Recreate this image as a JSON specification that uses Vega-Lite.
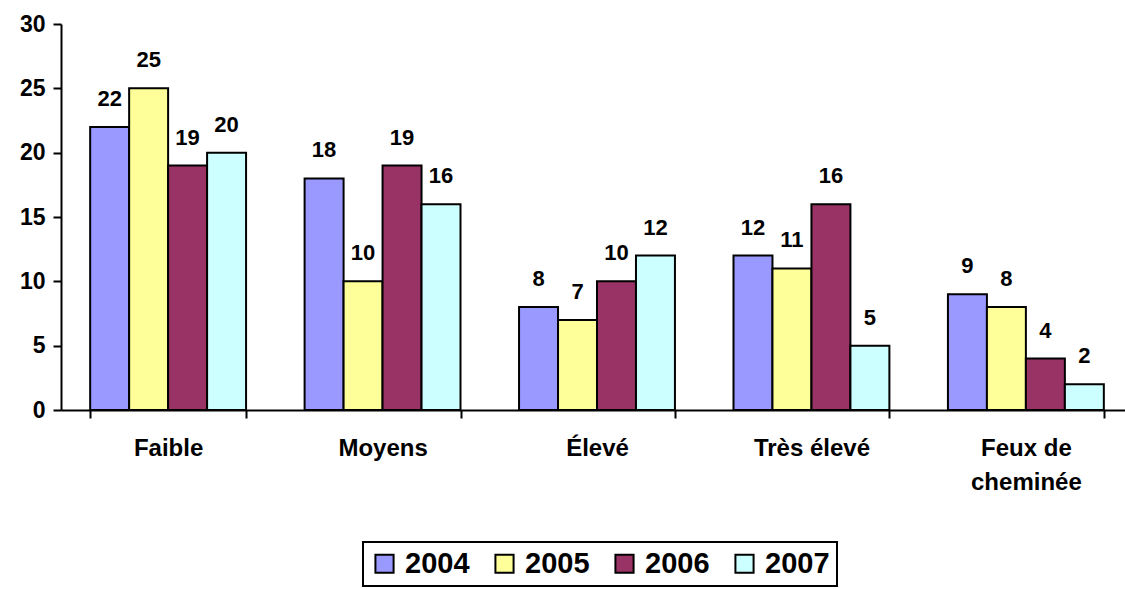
{
  "$schema": "https://vega.github.io/schema/vega-lite/v6.json",
  "autosize": {"type": "none"},
  "padding": {"left": 61, "top": 24, "right": 0, "bottom": 179},
  "width": 1072,
  "height": 386,
  "background": "white",
  "config": {
    "view": {"stroke": null},
    "font": "Liberation Sans"
  },
  "data": {
    "values": [
      {"cat": "Faible", "year": "2004", "v": 22},
      {"cat": "Faible", "year": "2005", "v": 25},
      {"cat": "Faible", "year": "2006", "v": 19},
      {"cat": "Faible", "year": "2007", "v": 20},
      {"cat": "Moyens", "year": "2004", "v": 18},
      {"cat": "Moyens", "year": "2005", "v": 10},
      {"cat": "Moyens", "year": "2006", "v": 19},
      {"cat": "Moyens", "year": "2007", "v": 16},
      {"cat": "Élevé", "year": "2004", "v": 8},
      {"cat": "Élevé", "year": "2005", "v": 7},
      {"cat": "Élevé", "year": "2006", "v": 10},
      {"cat": "Élevé", "year": "2007", "v": 12},
      {"cat": "Très élevé", "year": "2004", "v": 12},
      {"cat": "Très élevé", "year": "2005", "v": 11},
      {"cat": "Très élevé", "year": "2006", "v": 16},
      {"cat": "Très élevé", "year": "2007", "v": 5},
      {"cat": "Feux de cheminée", "year": "2004", "v": 9},
      {"cat": "Feux de cheminée", "year": "2005", "v": 8},
      {"cat": "Feux de cheminée", "year": "2006", "v": 4},
      {"cat": "Feux de cheminée", "year": "2007", "v": 2}
    ]
  },
  "encoding": {
    "x": {
      "field": "cat", "type": "nominal", "sort": null,
      "scale": {"paddingInner": 0.273, "paddingOuter": 0.136},
      "axis": {
        "title": null, "labelAngle": 0,
        "labelFont": "Liberation Sans", "labelFontSize": 24, "labelFontWeight": "bold", "labelColor": "black",
        "labelPadding": 18, "labelLineHeight": 34, "labelBaseline": "top",
        "labelExpr": "datum.value == 'Feux de cheminée' ? ['Feux de', 'cheminée'] : datum.value",
        "domainColor": "black", "domainWidth": 2,
        "tickColor": "black", "tickWidth": 2, "tickSize": 8, "tickBand": "extent",
        "grid": false
      }
    },
    "xOffset": {"field": "year", "type": "nominal"},
    "y": {
      "field": "v", "type": "quantitative",
      "scale": {"domain": [0, 30], "nice": false},
      "axis": {
        "title": null, "values": [0, 5, 10, 15, 20, 25, 30],
        "labelFont": "Liberation Sans", "labelFontSize": 23, "labelFontWeight": "bold", "labelColor": "black",
        "labelPadding": 8,
        "domainColor": "black", "domainWidth": 2,
        "tickColor": "black", "tickWidth": 2, "tickSize": 8,
        "grid": false
      }
    }
  },
  "layer": [
    {
      "mark": {"type": "bar", "stroke": "black", "strokeWidth": 2},
      "encoding": {
        "color": {
          "field": "year", "type": "nominal",
          "scale": {"domain": ["2004", "2005", "2006", "2007"], "range": ["#9999FF", "#FFFF99", "#993366", "#CCFFFF"]},
          "legend": {
            "title": null, "orient": "none", "direction": "horizontal",
            "legendX": 302, "legendY": 518,
            "strokeColor": "black", "padding": 7,
            "symbolType": "square", "symbolSize": 330, "symbolStrokeColor": "black", "symbolStrokeWidth": 2,
            "symbolOpacity": 1,
            "labelFont": "Liberation Sans", "labelFontSize": 29, "labelFontWeight": "bold", "labelColor": "black",
            "labelOffset": 6, "columnPadding": 20, "fillColor": "white",
            "encode": {"legend": {"update": {"strokeWidth": {"value": 2}}}}
          }
        }
      }
    },
    {
      "mark": {"type": "text", "baseline": "bottom", "dy": -16, "font": "Liberation Sans", "fontSize": 22, "fontWeight": "bold", "color": "black"},
      "encoding": {"text": {"field": "v", "type": "quantitative"}}
    }
  ]
}
